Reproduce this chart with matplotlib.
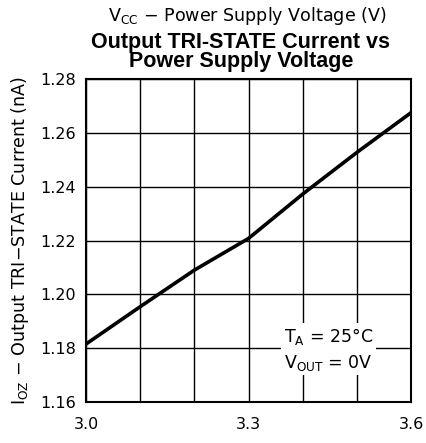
import numpy as np
import matplotlib
matplotlib.use("Agg")
import matplotlib.pyplot as plt

# supply voltage (V) and tri-state current (nA)
vcc = [3.0, 3.1, 3.2, 3.3, 3.4, 3.5, 3.6]
ioz = [1.1815, 1.1954, 1.2090, 1.2208, 1.2373, 1.2528, 1.2676]

x_ticks = [3.0, 3.1, 3.2, 3.3, 3.4, 3.5, 3.6]
x_labels = ['3.0', '', '', '3.3', '', '', '3.6']
y_ticks = [1.16, 1.18, 1.20, 1.22, 1.24, 1.26, 1.28]
y_labels = ['1.16', '1.18', '1.20', '1.22', '1.24', '1.26', '1.28']

fig = plt.figure(figsize=(4.26, 4.43), dpi=100)
ax = fig.add_axes([0.202, 0.093, 0.763, 0.728])

ax.plot(vcc, ioz, color='black', linewidth=2.6, zorder=3)

ax.set_xlim(3.0, 3.6)
ax.set_ylim(1.16, 1.28)
ax.set_xticks(x_ticks)
ax.set_xticklabels(x_labels)
ax.set_yticks(y_ticks)
ax.set_yticklabels(y_labels)
ax.tick_params(length=0, labelsize=11.5)
ax.tick_params(axis='x', pad=11)
ax.tick_params(axis='y', pad=7)
ax.grid(True, color='black', linewidth=1.0)
for s in ax.spines.values():
    s.set_linewidth(1.5)

ax.set_ylabel(r'I$_{\mathregular{OZ}}$ $-$ Output TRI$-$STATE Current (nA)', fontsize=12.6, labelpad=7)

fig.text(0.58, 0.965, r'V$_{\mathregular{CC}}$ $-$ Power Supply Voltage (V)',
         ha='center', va='center', fontsize=12.6)
fig.text(0.565, 0.882, 'Output TRI-STATE Current vs\nPower Supply Voltage',
         ha='center', va='center', fontsize=15.5, fontweight='bold',
         family='Liberation Sans', linespacing=0.9)

ax.text(3.447, 1.1795, 'T$_{\\mathregular{A}}$ = 25°C\nV$_{\\mathregular{OUT}}$ = 0V',
        ha='center', va='center', fontsize=12.5, linespacing=1.35,
        bbox=dict(facecolor='white', edgecolor='none', pad=2), zorder=4)

fig.savefig('out.png', dpi=100)
